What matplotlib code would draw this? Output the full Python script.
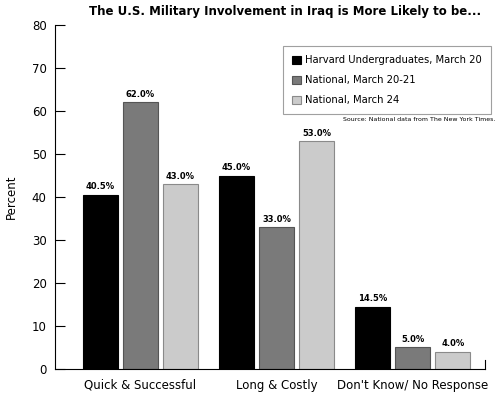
import matplotlib.pyplot as plt
import numpy as np

categories = ["Quick & Successful", "Long & Costly", "Don't Know/ No Response"]
series_names = ["Harvard Undergraduates, March 20", "National, March 20-21", "National, March 24"]
harvard = [40.5, 45.0, 14.5]
national_1 = [62.0, 33.0, 5.0]
national_2 = [43.0, 53.0, 4.0]

colors = ["#000000", "#7a7a7a", "#cbcbcb"]
edges = ["#000000", "#555555", "#8a8a8a"]

fig = plt.figure(figsize=(5, 3.94), dpi=100)
ax = fig.add_axes([0.11, 0.0635, 0.86, 0.873])

x = np.arange(len(categories))
w = 0.257
off = 0.294
for i, vals in enumerate([harvard, national_1, national_2]):
    bars = ax.bar(x + (i - 1) * off, vals, w, color=colors[i], edgecolor=edges[i],
                  linewidth=0.8, label=series_names[i])
    for b, v in zip(bars, vals):
        ax.text(b.get_x() + b.get_width() / 2, v + 0.8, "%.1f%%" % v,
                ha="center", va="bottom", fontsize=6, fontweight="bold")

ax.set_xlim(-0.625, 2.53)
ax.set_ylim(0, 80)
ax.set_yticks(range(0, 81, 10))
ax.set_xticks(x)
ax.set_xticklabels(categories, fontsize=8.5)
ax.tick_params(axis="x", length=0, pad=7)
ax.tick_params(axis="y", direction="in", length=7, labelsize=8.5, pad=6)
ax.spines["top"].set_visible(False)
ax.spines["right"].set_visible(False)
ax.set_ylabel("Percent", fontsize=8.5, labelpad=10)

leg = ax.legend(loc="upper right", bbox_to_anchor=(1.026, 0.953), fontsize=7.2,
                frameon=True, fancybox=False, edgecolor="#888888",
                handlelength=0.9, handleheight=0.9, handletextpad=0.4,
                borderpad=0.9, labelspacing=1.0)
leg.get_frame().set_linewidth(0.8)
ax.text(1.024, 0.725, "Source: National data from The New York Times.", transform=ax.transAxes,
        ha="right", va="center", fontsize=4.5)

ax.plot([1, 1], [0, 0.025], transform=ax.transAxes, color="black", lw=0.8, clip_on=False)

fig.text(0.57, 0.97, "The U.S. Military Involvement in Iraq is More Likely to be...",
         ha="center", va="center", fontsize=8.5, fontweight="bold")

plt.savefig("out.png")
